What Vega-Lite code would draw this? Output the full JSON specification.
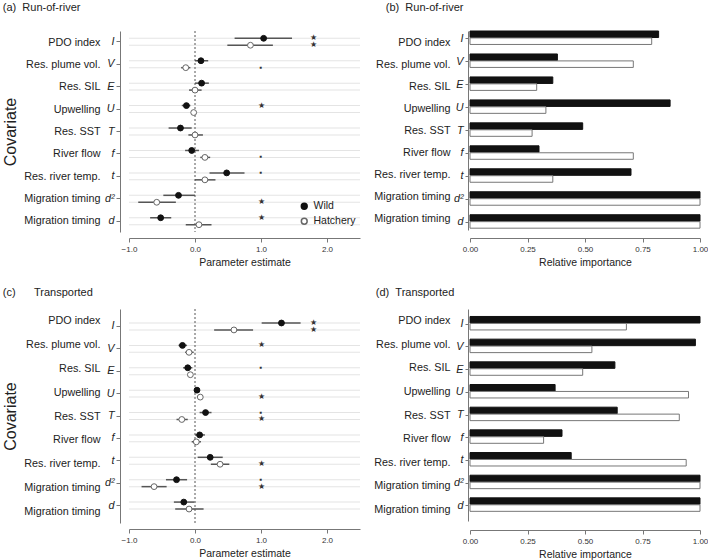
{
  "$schema": "https://vega.github.io/schema/vega-lite/v6.json",
  "padding": {"left": 2, "top": 1, "right": 0, "bottom": 0},
  "datasets": {
    "ror": [
      {"cov": "PDO index|I", "group": "Wild", "est": 1.04, "lo": 0.60, "hi": 1.47, "imp": 0.82, "sig": "★", "sigX": 1.8},
      {"cov": "PDO index|I", "group": "Hatchery", "est": 0.84, "lo": 0.49, "hi": 1.18, "imp": 0.79, "sig": "★", "sigX": 1.8},
      {"cov": "Res. plume vol.|V", "group": "Wild", "est": 0.09, "lo": 0.00, "hi": 0.20, "imp": 0.38, "sig": "", "sigX": 1.0},
      {"cov": "Res. plume vol.|V", "group": "Hatchery", "est": -0.14, "lo": -0.21, "hi": -0.07, "imp": 0.71, "sig": "▪", "sigX": 1.0},
      {"cov": "Res. SIL|E", "group": "Wild", "est": 0.10, "lo": 0.00, "hi": 0.21, "imp": 0.36, "sig": "", "sigX": 1.0},
      {"cov": "Res. SIL|E", "group": "Hatchery", "est": 0.00, "lo": -0.09, "hi": 0.10, "imp": 0.29, "sig": "", "sigX": 1.0},
      {"cov": "Upwelling|U", "group": "Wild", "est": -0.13, "lo": -0.20, "hi": -0.07, "imp": 0.87, "sig": "★", "sigX": 1.0},
      {"cov": "Upwelling|U", "group": "Hatchery", "est": -0.02, "lo": -0.06, "hi": 0.02, "imp": 0.33, "sig": "", "sigX": 1.0},
      {"cov": "Res. SST|T", "group": "Wild", "est": -0.22, "lo": -0.40, "hi": -0.05, "imp": 0.49, "sig": "", "sigX": 1.0},
      {"cov": "Res. SST|T", "group": "Hatchery", "est": 0.00, "lo": -0.10, "hi": 0.12, "imp": 0.27, "sig": "", "sigX": 1.0},
      {"cov": "River flow|f", "group": "Wild", "est": -0.05, "lo": -0.15, "hi": 0.06, "imp": 0.30, "sig": "", "sigX": 1.0},
      {"cov": "River flow|f", "group": "Hatchery", "est": 0.15, "lo": 0.08, "hi": 0.23, "imp": 0.71, "sig": "▪", "sigX": 1.0},
      {"cov": "Res. river temp.|t", "group": "Wild", "est": 0.48, "lo": 0.22, "hi": 0.75, "imp": 0.70, "sig": "▪", "sigX": 1.0},
      {"cov": "Res. river temp.|t", "group": "Hatchery", "est": 0.15, "lo": 0.00, "hi": 0.31, "imp": 0.36, "sig": "", "sigX": 1.0},
      {"cov": "Migration timing|d²", "group": "Wild", "est": -0.25, "lo": -0.48, "hi": 0.00, "imp": 1.0, "sig": "", "sigX": 1.0},
      {"cov": "Migration timing|d²", "group": "Hatchery", "est": -0.58, "lo": -0.86, "hi": -0.29, "imp": 1.0, "sig": "★", "sigX": 1.0},
      {"cov": "Migration timing|d", "group": "Wild", "est": -0.52, "lo": -0.68, "hi": -0.36, "imp": 1.0, "sig": "★", "sigX": 1.0},
      {"cov": "Migration timing|d", "group": "Hatchery", "est": 0.06, "lo": -0.14, "hi": 0.25, "imp": 1.0, "sig": "", "sigX": 1.0}
    ],
    "tr": [
      {"cov": "PDO index|I", "group": "Wild", "est": 1.31, "lo": 1.01, "hi": 1.60, "imp": 1.00, "sig": "★", "sigX": 1.8},
      {"cov": "PDO index|I", "group": "Hatchery", "est": 0.59, "lo": 0.29, "hi": 0.88, "imp": 0.68, "sig": "★", "sigX": 1.8},
      {"cov": "Res. plume vol.|V", "group": "Wild", "est": -0.19, "lo": -0.25, "hi": -0.12, "imp": 0.98, "sig": "★", "sigX": 1.0},
      {"cov": "Res. plume vol.|V", "group": "Hatchery", "est": -0.09, "lo": -0.15, "hi": -0.02, "imp": 0.53, "sig": "", "sigX": 1.0},
      {"cov": "Res. SIL|E", "group": "Wild", "est": -0.11, "lo": -0.18, "hi": -0.04, "imp": 0.63, "sig": "▪", "sigX": 1.0},
      {"cov": "Res. SIL|E", "group": "Hatchery", "est": -0.07, "lo": -0.10, "hi": -0.03, "imp": 0.49, "sig": "", "sigX": 1.0},
      {"cov": "Upwelling|U", "group": "Wild", "est": 0.03, "lo": 0.00, "hi": 0.06, "imp": 0.37, "sig": "", "sigX": 1.0},
      {"cov": "Upwelling|U", "group": "Hatchery", "est": 0.08, "lo": 0.04, "hi": 0.11, "imp": 0.95, "sig": "★", "sigX": 1.0},
      {"cov": "Res. SST|T", "group": "Wild", "est": 0.16, "lo": 0.07, "hi": 0.25, "imp": 0.64, "sig": "▪", "sigX": 1.0},
      {"cov": "Res. SST|T", "group": "Hatchery", "est": -0.20, "lo": -0.28, "hi": -0.11, "imp": 0.91, "sig": "★", "sigX": 1.0},
      {"cov": "River flow|f", "group": "Wild", "est": 0.07, "lo": 0.00, "hi": 0.15, "imp": 0.40, "sig": "", "sigX": 1.0},
      {"cov": "River flow|f", "group": "Hatchery", "est": 0.02, "lo": -0.05, "hi": 0.09, "imp": 0.32, "sig": "", "sigX": 1.0},
      {"cov": "Res. river temp.|t", "group": "Wild", "est": 0.23, "lo": 0.04, "hi": 0.42, "imp": 0.44, "sig": "", "sigX": 1.0},
      {"cov": "Res. river temp.|t", "group": "Hatchery", "est": 0.38, "lo": 0.24, "hi": 0.52, "imp": 0.94, "sig": "★", "sigX": 1.0},
      {"cov": "Migration timing|d²", "group": "Wild", "est": -0.28, "lo": -0.44, "hi": -0.12, "imp": 1.0, "sig": "▪", "sigX": 1.0},
      {"cov": "Migration timing|d²", "group": "Hatchery", "est": -0.62, "lo": -0.81, "hi": -0.43, "imp": 1.0, "sig": "★", "sigX": 1.0},
      {"cov": "Migration timing|d", "group": "Wild", "est": -0.17, "lo": -0.32, "hi": -0.01, "imp": 1.0, "sig": "", "sigX": 1.0},
      {"cov": "Migration timing|d", "group": "Hatchery", "est": -0.09, "lo": -0.30, "hi": 0.13, "imp": 1.0, "sig": "", "sigX": 1.0}
    ]
  },
  "vconcat": [
    {
      "hconcat": [
        {
          "data": {"name": "ror"},
          "width": 231,
          "height": 201,
          "title": {"text": "(a)\u00a0\u00a0Run-of-river", "offset": 18},
          "layer": [
            {
              "layer": [
                {
                  "mark": {"type": "bar", "height": 1, "color": "#e4e4e4"},
                  "encoding": {
                    "y": {"field": "cov", "type": "nominal", "sort": null, "scale": {"paddingInner": 0.4, "paddingOuter": 0.18}, "axis": {"title": null, "offset": 9, "tickSize": 4, "labelPadding": 2, "labelFontStyle": "italic", "labelFontSize": 10.8, "labelColor": "#222", "labelExpr": "split(datum.value, '|')[1]"}},
                    "yOffset": {"field": "group", "type": "nominal", "sort": ["Wild", "Hatchery"]},
                    "x": {"datum": -1, "type": "quantitative", "scale": {"domain": [-1, 2.5], "nice": false, "zero": false}, "axis": {"title": "Parameter estimate", "values": [-1, -0.5, 0, 0.5, 1, 1.5, 2, 2.5], "format": ".1f", "offset": 6, "labelOverlap": false, "labelFlush": false}},
                    "x2": {"datum": 2.5}
                  }
                },
                {
                  "data": {"values": [{}]},
                  "mark": {"type": "rule", "color": "#555", "strokeDash": [2, 2], "strokeWidth": 1},
                  "encoding": {"x": {"datum": 0, "type": "quantitative"}}
                },
                {
                  "mark": {"type": "bar", "height": 1.5, "color": "#555"},
                  "encoding": {
                    "y": {"field": "cov", "type": "nominal", "sort": null},
                    "yOffset": {"field": "group", "type": "nominal", "sort": ["Wild", "Hatchery"]},
                    "x": {"field": "lo", "type": "quantitative"},
                    "x2": {"field": "hi"}
                  }
                },
                {
                  "mark": {"type": "point", "size": 34, "strokeWidth": 1, "opacity": 1},
                  "encoding": {
                    "y": {"field": "cov", "type": "nominal", "sort": null},
                    "yOffset": {"field": "group", "type": "nominal", "sort": ["Wild", "Hatchery"]},
                    "x": {"field": "est", "type": "quantitative"},
                    "fill": {"field": "group", "type": "nominal", "scale": {"domain": ["Wild", "Hatchery"], "range": ["#111111", "#ffffff"]},
                      "legend": {"title": null, "orient": "bottom-right", "offset": 4, "labelFontSize": 10.5, "symbolSize": 34, "labelColor": "#222"}},
                    "stroke": {"field": "group", "type": "nominal", "scale": {"domain": ["Wild", "Hatchery"], "range": ["#111111", "#666666"]},
                      "legend": {"title": null, "orient": "bottom-right", "offset": 4, "labelFontSize": 10.5, "symbolSize": 34, "labelColor": "#222"}}
                  }
                },
                {
                  "mark": {"type": "text", "fontSize": 8, "color": "#333", "baseline": "middle"},
                  "encoding": {
                    "y": {"field": "cov", "type": "nominal", "sort": null},
                    "yOffset": {"field": "group", "type": "nominal", "sort": ["Wild", "Hatchery"]},
                    "x": {"field": "sigX", "type": "quantitative"},
                    "text": {"field": "sig", "type": "nominal"}
                  }
                }
              ]
            },
            {
              "mark": {"type": "text", "text": ""},
              "encoding": {
                "y": {"field": "cov", "type": "nominal", "sort": null, "scale": {"paddingInner": 0.4, "paddingOuter": 0.18},
                  "axis": {"title": "Covariate", "titleFontSize": 16, "titlePadding": 5, "orient": "left", "offset": 29, "ticks": false, "domain": false, "labelPadding": 0, "labelFontSize": 10.8, "labelColor": "#222", "labelExpr": "split(datum.value, '|')[0]"}}
              }
            }
          ],
          "resolve": {"scale": {"y": "independent"}, "axis": {"y": "independent"}}
        },
        {
          "data": {"name": "ror"},
          "width": 230,
          "height": 199,
          "title": {"text": "(b)\u00a0\u00a0Run-of-river", "offset": 18, "dx": 12},
          "layer": [
            {
              "mark": {"type": "bar", "strokeWidth": 1},
              "encoding": {
                "y": {"field": "cov", "type": "nominal", "sort": null, "scale": {"paddingInner": 0.335, "paddingOuter": 0.0},
                  "axis": {"title": null, "orient": "left", "offset": 2, "tickSize": 3, "labelPadding": 2, "labelFontStyle": "italic", "labelFontSize": 10.8, "labelColor": "#222", "labelExpr": "split(datum.value, '|')[1]"}},
                "yOffset": {"field": "group", "type": "nominal", "sort": ["Wild", "Hatchery"], "scale": {"paddingInner": 0.06}},
                "x": {"field": "imp", "type": "quantitative", "scale": {"domain": [0, 1], "nice": false}, "axis": {"title": "Relative importance", "values": [0, 0.25, 0.5, 0.75, 1], "format": ".2f", "offset": 8, "labelOverlap": false, "labelFlush": false}},
                "fill": {"field": "group", "type": "nominal", "scale": {"domain": ["Wild", "Hatchery"], "range": ["#111111", "#ffffff"]}, "legend": null},
                "stroke": {"field": "group", "type": "nominal", "scale": {"domain": ["Wild", "Hatchery"], "range": ["#111111", "#777777"]}, "legend": null}
              }
            },
            {
              "mark": {"type": "text", "text": ""},
              "encoding": {
                "y": {"field": "cov", "type": "nominal", "sort": null, "scale": {"paddingInner": 0.335, "paddingOuter": 0.0},
                  "axis": {"title": null, "orient": "left", "offset": 20, "ticks": false, "domain": false, "labelPadding": 0, "labelFontSize": 10.8, "labelColor": "#222", "labelExpr": "split(datum.value, '|')[0]"}}
              }
            }
          ],
          "resolve": {"scale": {"y": "independent"}, "axis": {"y": "independent"}}
        }
      ],
      "spacing": 13,
      "resolve": {"scale": {"fill": "independent", "stroke": "independent"}, "legend": {"fill": "independent", "stroke": "independent"}}
    },
    {
      "hconcat": [
        {
          "data": {"name": "tr"},
          "width": 231,
          "height": 214,
          "title": {"text": "(c)\u00a0\u00a0\u00a0\u00a0\u00a0\u00a0Transported", "offset": 11},
          "layer": [
            {
              "layer": [
                {
                  "mark": {"type": "bar", "height": 1, "color": "#e4e4e4"},
                  "encoding": {
                    "y": {"field": "cov", "type": "nominal", "sort": null, "scale": {"paddingInner": 0.4, "paddingOuter": 0.48}, "axis": {"title": null, "offset": 9, "tickSize": 4, "labelPadding": 2, "labelFontStyle": "italic", "labelFontSize": 10.8, "labelColor": "#222", "labelExpr": "split(datum.value, '|')[1]"}},
                    "yOffset": {"field": "group", "type": "nominal", "sort": ["Wild", "Hatchery"]},
                    "x": {"datum": -1, "type": "quantitative", "scale": {"domain": [-1, 2.5], "nice": false, "zero": false}, "axis": {"title": "Parameter estimate", "values": [-1, -0.5, 0, 0.5, 1, 1.5, 2, 2.5], "format": ".1f", "offset": 6, "labelOverlap": false, "labelFlush": false}},
                    "x2": {"datum": 2.5}
                  }
                },
                {
                  "data": {"values": [{}]},
                  "mark": {"type": "rule", "color": "#555", "strokeDash": [2, 2], "strokeWidth": 1},
                  "encoding": {"x": {"datum": 0, "type": "quantitative"}}
                },
                {
                  "mark": {"type": "bar", "height": 1.5, "color": "#555"},
                  "encoding": {
                    "y": {"field": "cov", "type": "nominal", "sort": null},
                    "yOffset": {"field": "group", "type": "nominal", "sort": ["Wild", "Hatchery"]},
                    "x": {"field": "lo", "type": "quantitative"},
                    "x2": {"field": "hi"}
                  }
                },
                {
                  "mark": {"type": "point", "size": 34, "strokeWidth": 1, "opacity": 1},
                  "encoding": {
                    "y": {"field": "cov", "type": "nominal", "sort": null},
                    "yOffset": {"field": "group", "type": "nominal", "sort": ["Wild", "Hatchery"]},
                    "x": {"field": "est", "type": "quantitative"},
                    "fill": {"field": "group", "type": "nominal", "scale": {"domain": ["Wild", "Hatchery"], "range": ["#111111", "#ffffff"]}, "legend": null},
                    "stroke": {"field": "group", "type": "nominal", "scale": {"domain": ["Wild", "Hatchery"], "range": ["#111111", "#666666"]}, "legend": null}
                  }
                },
                {
                  "mark": {"type": "text", "fontSize": 8, "color": "#333", "baseline": "middle"},
                  "encoding": {
                    "y": {"field": "cov", "type": "nominal", "sort": null},
                    "yOffset": {"field": "group", "type": "nominal", "sort": ["Wild", "Hatchery"]},
                    "x": {"field": "sigX", "type": "quantitative"},
                    "text": {"field": "sig", "type": "nominal"}
                  }
                }
              ]
            },
            {
              "mark": {"type": "text", "text": ""},
              "encoding": {
                "y": {"field": "cov", "type": "nominal", "sort": null, "scale": {"paddingInner": 0.4, "paddingOuter": 0.48},
                  "axis": {"title": "Covariate", "titleFontSize": 16, "titlePadding": 5, "orient": "left", "offset": 29, "ticks": false, "domain": false, "labelPadding": 0, "labelFontSize": 10.8, "labelColor": "#222", "labelExpr": "split(datum.value, '|')[0]"}}
              }
            }
          ],
          "resolve": {"scale": {"y": "independent"}, "axis": {"y": "independent"}}
        },
        {
          "data": {"name": "tr"},
          "width": 230,
          "height": 212,
          "title": {"text": "(d)\u00a0\u00a0Transported", "offset": 11, "dx": 2},
          "layer": [
            {
              "mark": {"type": "bar", "strokeWidth": 1},
              "encoding": {
                "y": {"field": "cov", "type": "nominal", "sort": null, "scale": {"paddingInner": 0.31, "paddingOuter": 0.33},
                  "axis": {"title": null, "orient": "left", "offset": 2, "tickSize": 3, "labelPadding": 2, "labelFontStyle": "italic", "labelFontSize": 10.8, "labelColor": "#222", "labelExpr": "split(datum.value, '|')[1]"}},
                "yOffset": {"field": "group", "type": "nominal", "sort": ["Wild", "Hatchery"], "scale": {"paddingInner": 0.06}},
                "x": {"field": "imp", "type": "quantitative", "scale": {"domain": [0, 1], "nice": false}, "axis": {"title": "Relative importance", "values": [0, 0.25, 0.5, 0.75, 1], "format": ".2f", "offset": 9, "labelOverlap": false, "labelFlush": false}},
                "fill": {"field": "group", "type": "nominal", "scale": {"domain": ["Wild", "Hatchery"], "range": ["#111111", "#ffffff"]}, "legend": null},
                "stroke": {"field": "group", "type": "nominal", "scale": {"domain": ["Wild", "Hatchery"], "range": ["#111111", "#777777"]}, "legend": null}
              }
            },
            {
              "mark": {"type": "text", "text": ""},
              "encoding": {
                "y": {"field": "cov", "type": "nominal", "sort": null, "scale": {"paddingInner": 0.31, "paddingOuter": 0.33},
                  "axis": {"title": null, "orient": "left", "offset": 20, "ticks": false, "domain": false, "labelPadding": 0, "labelFontSize": 10.8, "labelColor": "#222", "labelExpr": "split(datum.value, '|')[0]"}}
              }
            }
          ],
          "resolve": {"scale": {"y": "independent"}, "axis": {"y": "independent"}}
        }
      ],
      "spacing": 13,
      "resolve": {"scale": {"fill": "independent", "stroke": "independent"}, "legend": {"fill": "independent", "stroke": "independent"}}
    }
  ],
  "spacing": 18,
  "resolve": {"scale": {"fill": "independent", "stroke": "independent"}, "legend": {"fill": "independent", "stroke": "independent"}},
  "config": {
    "font": "Liberation Sans",
    "view": {"stroke": null},
    "axis": {"labelFontSize": 8, "labelColor": "#333", "titleFontSize": 10.5, "titleFontWeight": "normal", "titleColor": "#222", "domainColor": "#777", "tickColor": "#777", "tickSize": 4, "grid": false, "titlePadding": 4, "labelPadding": 3},
    "title": {"fontSize": 11, "fontWeight": "normal", "anchor": "start", "frame": "bounds", "color": "#222"}
  }
}
